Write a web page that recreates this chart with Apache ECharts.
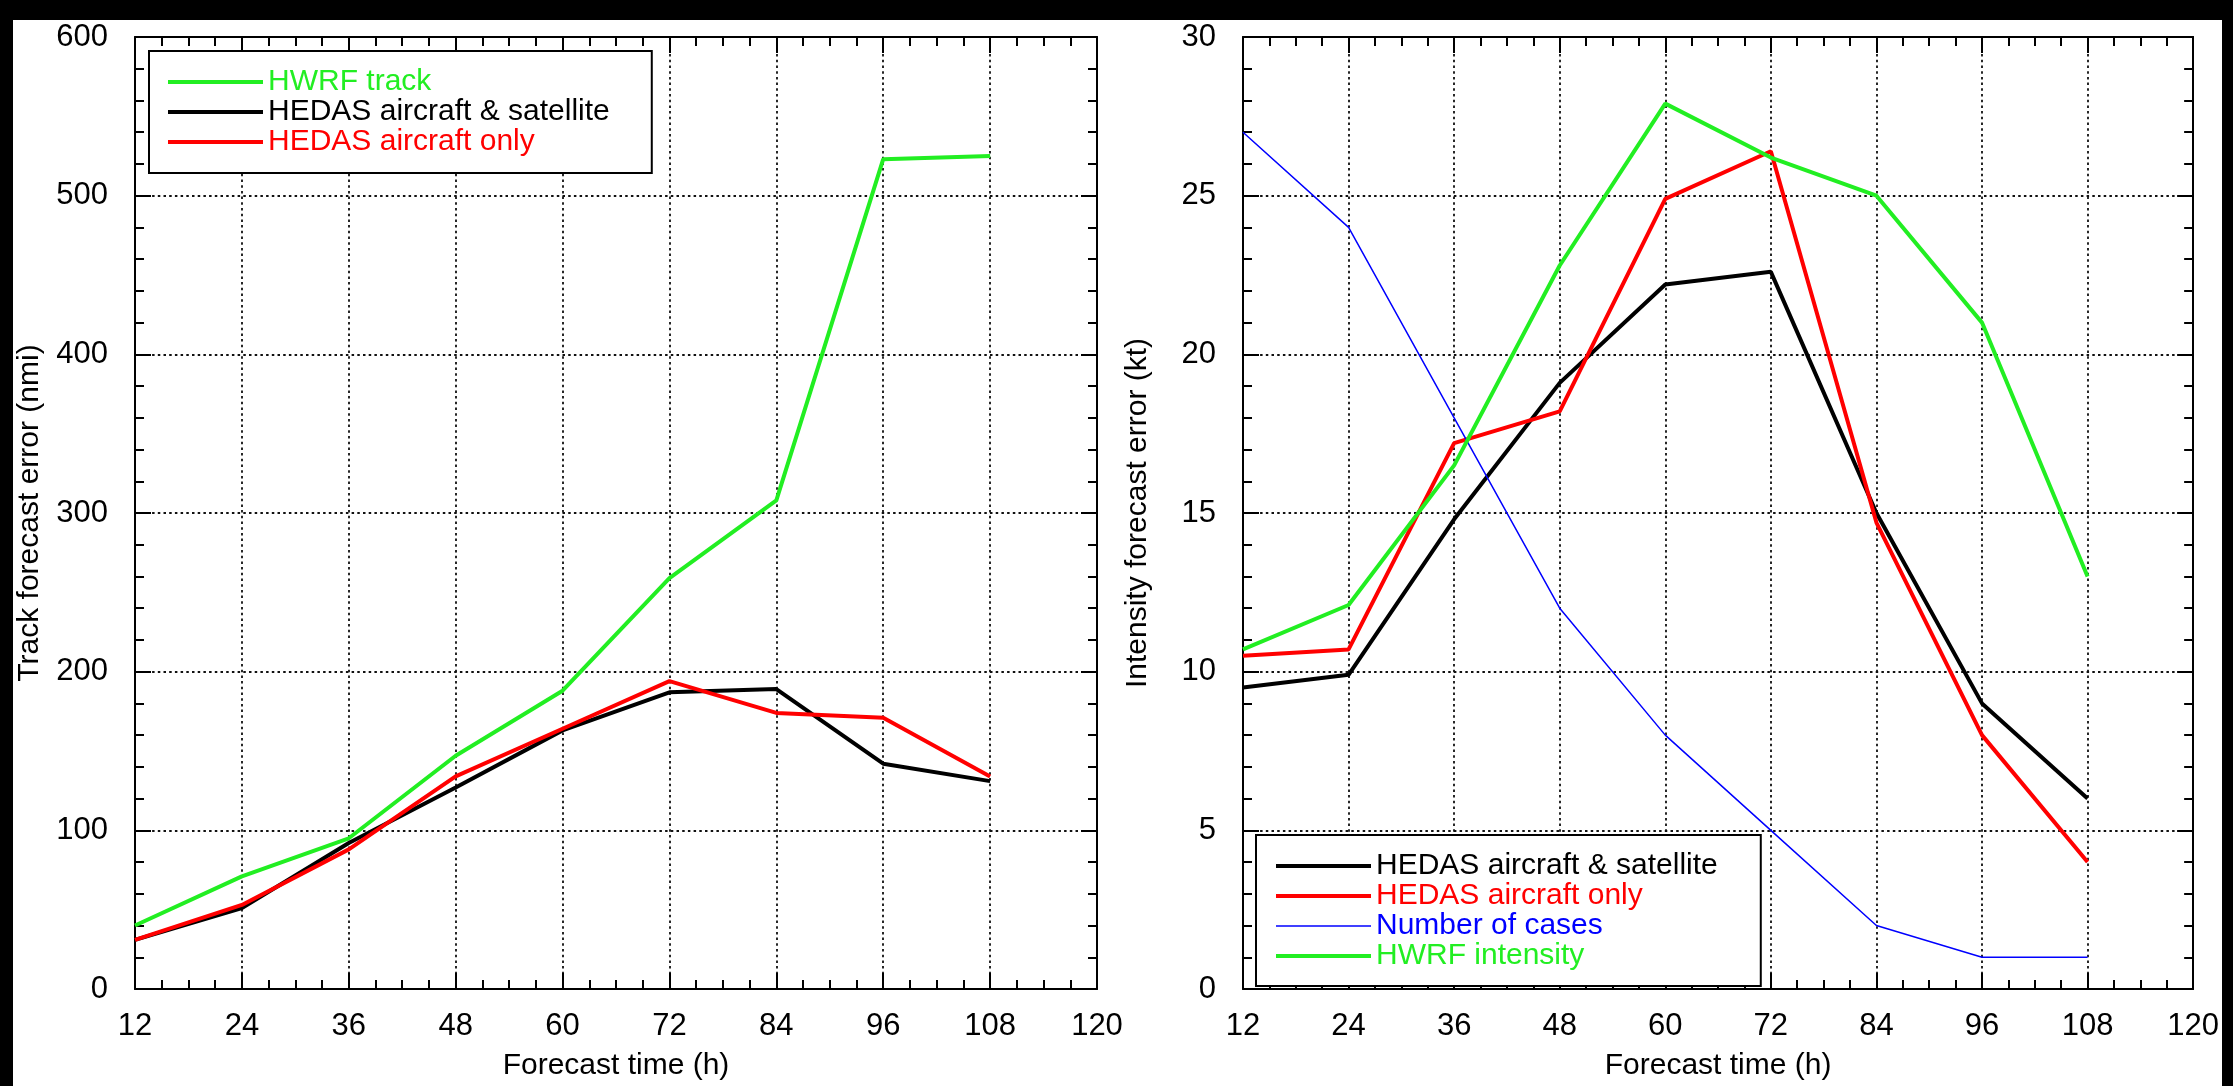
<!DOCTYPE html>
<html>
<head>
<meta charset="utf-8">
<title>HEDAS vs HWRF forecast errors</title>
<script src="https://cdn.jsdelivr.net/npm/echarts@6/dist/echarts.min.js"></script>
<style>
  html, body { margin: 0; padding: 0; background: #000; width: 2233px; height: 1086px; overflow: hidden; }
  #chart { position: absolute; left: 13px; top: 20px; width: 2209px; height: 1066px; background: #fff; overflow: hidden; }
</style>
</head>
<body>
<div id="chart"></div>
<script>
// Forecast lead times (h)
const hours = [12, 24, 36, 48, 60, 72, 84, 96, 108];

// Track forecast error (nmi)
const trackHWRF = [40, 71, 95, 147, 188, 259, 308, 523, 525];
const trackAircraftSat = [31, 51, 92, 127, 163, 187, 189, 142, 131];
const trackAircraftOnly = [31, 53, 88, 134, 164, 194, 174, 171, 134];

// Intensity forecast error (kt) and sample size
const intensityAircraftSat = [9.5, 9.9, 14.8, 19.1, 22.2, 22.6, 15.0, 9.0, 6.0];
const intensityAircraftOnly = [10.5, 10.7, 17.2, 18.2, 24.9, 26.4, 14.7, 8.0, 4.0];
const numberOfCases = [27, 24, 18, 12, 8, 5, 2, 1, 1];
const intensityHWRF = [10.7, 12.1, 16.5, 22.8, 27.9, 26.2, 25.0, 21.0, 13.0];

// Axis ranges / ticks
const xTicks = { min: 12, max: 120, interval: 12 };
const trackTicks = { min: 0, max: 600, interval: 100 };
const intensityTicks = { min: 0, max: 30, interval: 5 };

const FONT = '"Liberation Sans", Arial, Helvetica, sans-serif';
const GREEN = '#22ee22', RED = '#ff0000', BLACK = '#000000', BLUE = '#0000ff';
const THICK = 4, THIN = 1.5;

const pairs = (ys) => hours.map((h, i) => [h, ys[i]]);

const tickStyle = { color: '#000', width: 2 };
const gridDots = { color: '#111', width: 1.8, type: [2.5, 3.2] };

function xAxisBottom(gridIndex) {
  return {
    type: 'value', gridIndex, position: 'bottom', ...xTicks,
    axisLine: { show: true, onZero: false, lineStyle: { color: '#000', width: 2 } },
    axisTick: { show: true, inside: true, length: 16, lineStyle: tickStyle },
    minorTick: { show: true, splitNumber: 4, length: 9, lineStyle: tickStyle },
    splitLine: { show: true, lineStyle: gridDots },
    axisLabel: { color: '#000', fontSize: 31, fontFamily: FONT, margin: 22 },
    name: 'Forecast time (h)', nameLocation: 'middle', nameGap: 62,
    nameTextStyle: { color: '#000', fontSize: 30, fontFamily: FONT }
  };
}
function xAxisTop(gridIndex) {
  return {
    type: 'value', gridIndex, position: 'top', ...xTicks,
    axisLine: { show: true, onZero: false, lineStyle: { color: '#000', width: 2 } },
    axisTick: { show: true, inside: true, length: 16, lineStyle: tickStyle },
    minorTick: { show: true, splitNumber: 4, length: 9, lineStyle: tickStyle },
    splitLine: { show: false },
    axisLabel: { show: false }
  };
}
function yAxisLeft(gridIndex, ticks, name) {
  return {
    type: 'value', gridIndex, position: 'left', ...ticks,
    axisLine: { show: true, onZero: false, lineStyle: { color: '#000', width: 2 } },
    axisTick: { show: true, inside: true, length: 16, lineStyle: tickStyle },
    minorTick: { show: true, splitNumber: 5, length: 9, lineStyle: tickStyle },
    splitLine: { show: true, lineStyle: gridDots },
    axisLabel: { color: '#000', fontSize: 31, fontFamily: FONT, margin: 27 },
    name, nameLocation: 'middle', nameGap: 90,
    nameTextStyle: { color: '#000', fontSize: 30, fontFamily: FONT }
  };
}
function yAxisRight(gridIndex, ticks) {
  return {
    type: 'value', gridIndex, position: 'right', ...ticks,
    axisLine: { show: true, onZero: false, lineStyle: { color: '#000', width: 2 } },
    axisTick: { show: true, inside: true, length: 16, lineStyle: tickStyle },
    minorTick: { show: true, splitNumber: 5, length: 9, lineStyle: tickStyle },
    splitLine: { show: false },
    axisLabel: { show: false }
  };
}

function line(name, ys, color, width, xAxisIndex, yAxisIndex) {
  return {
    type: 'line', name, data: pairs(ys), xAxisIndex, yAxisIndex,
    symbol: 'none', smooth: false,
    lineStyle: { color, width },
    itemStyle: { color },
    emphasis: { disabled: true }
  };
}

function legendItem(name, color, width) {
  return { name, textStyle: { color }, lineStyle: { color, width } };
}

const legendCommon = {
  orient: 'vertical', selectedMode: false,
  itemWidth: 95, itemHeight: 4, itemGap: 0,
  backgroundColor: '#fff', borderColor: '#000', borderWidth: 2, borderRadius: 0,
  itemStyle: { opacity: 0 },
  textStyle: { fontSize: 30, fontFamily: FONT, lineHeight: 29.5 },
  z: 10
};

const option = {
  animation: false,
  backgroundColor: '#fff',
  grid: [
    { left: 122, top: 17, width: 962, height: 960 },
    { left: 1230, top: 17, width: 960, height: 960 }
  ],
  xAxis: [xAxisBottom(0), xAxisTop(0), xAxisBottom(1), xAxisTop(1)],
  yAxis: [
    yAxisLeft(0, trackTicks, 'Track forecast error (nmi)'), yAxisRight(0, trackTicks),
    yAxisLeft(1, intensityTicks, 'Intensity forecast error (kt)'), yAxisRight(1, intensityTicks)
  ],
  legend: [
    {
      ...legendCommon, left: 136, top: 31, padding: [16, 42, 16, 17],
      data: [
        legendItem('HWRF track', GREEN, THICK),
        legendItem('HEDAS aircraft & satellite', BLACK, THICK),
        legendItem('HEDAS aircraft only', RED, THICK)
      ]
    },
    {
      ...legendCommon, left: 1243, top: 815, padding: [16, 43, 15, 18],
      data: [
        legendItem('HEDAS aircraft & satellite', BLACK, THICK),
        legendItem('HEDAS aircraft only', RED, THICK),
        legendItem('Number of cases', BLUE, THIN),
        legendItem('HWRF intensity', GREEN, THICK)
      ]
    }
  ],
  series: [
    line('HWRF track', trackHWRF, GREEN, THICK, 0, 0),
    line('HEDAS aircraft & satellite', trackAircraftSat, BLACK, THICK, 0, 0),
    line('HEDAS aircraft only', trackAircraftOnly, RED, THICK, 0, 0),
    line('HEDAS aircraft & satellite', intensityAircraftSat, BLACK, THICK, 2, 2),
    line('HEDAS aircraft only', intensityAircraftOnly, RED, THICK, 2, 2),
    line('Number of cases', numberOfCases, BLUE, THIN, 2, 2),
    line('HWRF intensity', intensityHWRF, GREEN, THICK, 2, 2)
  ]
};

const chart = echarts.init(document.getElementById('chart'), null, { renderer: 'canvas' });
chart.setOption(option);
</script>
</body>
</html>
